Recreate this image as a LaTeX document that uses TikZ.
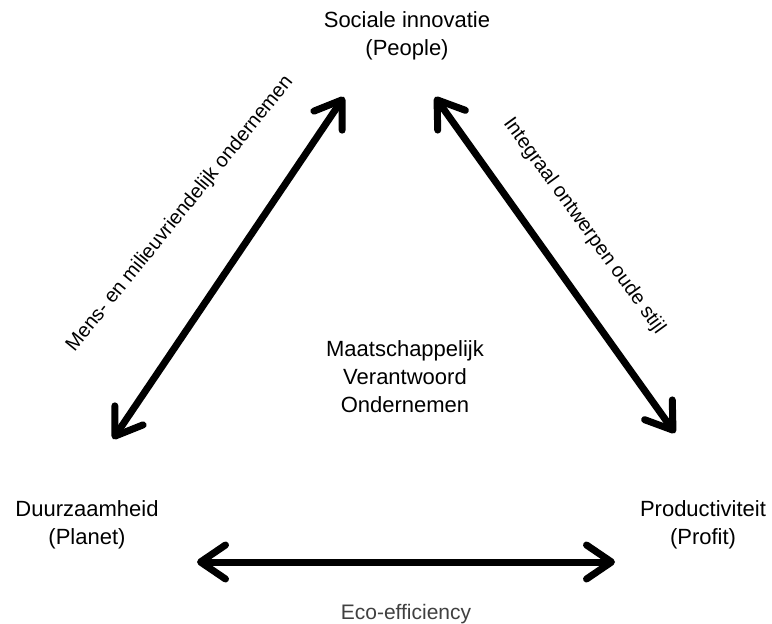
\documentclass[tikz,border=0pt]{standalone}
\usepackage{fontspec}
\setmainfont{Liberation Sans}
\usetikzlibrary{arrows.meta}
\begin{document}
\begin{tikzpicture}[x=1pt, y=-1pt,
  pole/.style={align=center, font=\fontsize{22}{28}\selectfont},
  side/.style={font=\fontsize{20}{22}\selectfont},
  eco/.style={font=\fontsize{21}{24}\selectfont, text=black!75},
  arr/.style={line width=7pt,
              {Straight Barb[length=25pt,width=34pt,round]}-{Straight Barb[length=25pt,width=34pt,round]}}
]
  \useasboundingbox (0,0) rectangle (772,624);

  \node[pole] (people) at (407,36)  {Sociale innovatie\\(People)};
  \node[pole] (planet) at (87,525)  {Duurzaamheid\\(Planet)};
  \node[pole] (profit) at (703,525) {Productiviteit\\(Profit)};
  \node[pole] (mvo)    at (405,377) {Maatschappelijk\\Verantwoord\\Ondernemen};

  \coordinate (planet-up)   at (113,439);
  \coordinate (people-left) at (344,97);
  \coordinate (people-right) at (435,97);
  \coordinate (profit-up)   at (675,433);
  \coordinate (planet-right) at (197,562);
  \coordinate (profit-left) at (615,562);

  \draw[arr] (planet-up) -- (people-left);
  \draw[arr] (people-right) -- (profit-up);
  \draw[arr] (planet-right) -- (profit-left)
        node[eco, midway, below=35pt] (ecoeff) {Eco-efficiency};

  \node[side, rotate=51]  (mens)      at (180,214) {Mens- en milieuvriendelijk ondernemen};
  \node[side, rotate=-54] (integraal) at (584,226) {Integraal ontwerpen oude stijl};
\end{tikzpicture}
\end{document}
